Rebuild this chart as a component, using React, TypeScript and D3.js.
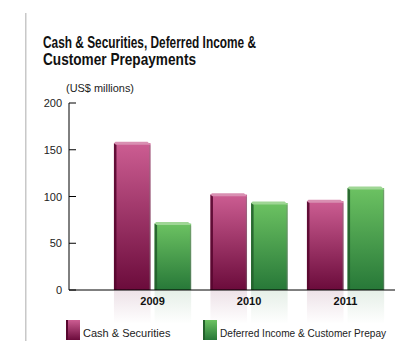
import React from "react";
import * as d3 from "d3";

const years = ["2009", "2010", "2011"];
const seriesNames = ["Cash & Securities", "Deferred Income & Customer Prepay"];
const cashSecurities = [157, 102, 95];
const deferredIncome = [71, 93, 109];
const yTicks = [0, 50, 100, 150, 200];

const W = 395;
const H = 341;

const colors = [
  { top: "#cc5d92", bottom: "#6b0b3b", side: "#58072f", edge: "#d98fb2" },
  { top: "#6cc262", bottom: "#277838", side: "#24602c", edge: "#9fd695" },
];

export default function App() {
  const y = d3.scaleLinear().domain([0, 200]).range([290, 103]);
  const x0 = d3.scaleBand<string>().domain(years).range([104.3, 393.8]).paddingInner(0.2).paddingOuter(0.1);
  const x1 = d3.scaleBand<string>().domain(["0", "1"]).range([0, x0.bandwidth()]).paddingInner(0.1);
  const series = [cashSecurities, deferredIncome];
  const font = "'Liberation Sans', Arial, sans-serif";

  return (
    <svg width={W} height={H} style={{ position: "absolute", left: 0, top: 0 }} fontFamily={font}>
      <defs>
        {colors.map((c, i) => (
          <linearGradient key={i} id={`g${i}`} x1="0" y1="0" x2="0" y2="1">
            <stop offset="0" stopColor={c.top} />
            <stop offset="1" stopColor={c.bottom} />
          </linearGradient>
        ))}
        {colors.map((c, i) => (
          <linearGradient key={"r" + i} id={`r${i}`} x1="0" y1="0" x2="0" y2="1">
            <stop offset="0" stopColor={c.bottom} stopOpacity={0.12} />
            <stop offset="1" stopColor={c.bottom} stopOpacity={0} />
          </linearGradient>
        ))}
        {colors.map((c, i) => (
          <linearGradient key={"l" + i} id={`l${i}`} x1="0" y1="0" x2="0" y2="1">
            <stop offset="0" stopColor={c.top} />
            <stop offset="1" stopColor={c.bottom} />
          </linearGradient>
        ))}
      </defs>
      <rect x={0} y={0} width={W} height={H} fill="#fff" />
      <rect x={25} y={13} width={1.5} height={H - 13} fill="#c8c8c8" />

      <text x={43} y={48} fontSize={16.5} fontWeight="bold" fill="#111" textLength={213} lengthAdjust="spacingAndGlyphs">
        Cash &amp; Securities, Deferred Income &amp;
      </text>
      <text x={43} y={64.5} fontSize={16.5} fontWeight="bold" fill="#111" textLength={153} lengthAdjust="spacingAndGlyphs">
        Customer Prepayments
      </text>
      <text x={66} y={92} fontSize={11} fill="#222" textLength={68} lengthAdjust="spacingAndGlyphs">
        (US$ millions)
      </text>

      {/* reflections */}
      {years.map((yr, gi) =>
        series.map((s, si) => {
          const bx = (x0(yr) as number) + (x1(String(si)) as number);
          return (
            <rect key={`ref${gi}-${si}`} x={bx} y={290} width={x1.bandwidth()} height={34} fill={`url(#r${si})`} />
          );
        })
      )}

      {/* bars */}
      {years.map((yr, gi) =>
        series.map((s, si) => {
          const bx = (x0(yr) as number) + (x1(String(si)) as number);
          const bw = x1.bandwidth();
          const top = y(s[gi]);
          const c = colors[si];
          return (
            <g key={`b${gi}-${si}`}>
              <rect x={bx} y={top} width={bw} height={290 - top} fill={`url(#g${si})`} />
              <rect x={bx} y={top} width={2.5} height={290 - top} fill={c.side} opacity={0.9} />
              <rect x={bx + bw - 1.2} y={top + 2} width={1.2} height={290 - top - 2} fill="#7a7a7a" opacity={0.45} />
              <polygon
                points={`${bx},${top} ${bx + 1.5},${top - 1.5} ${bx + bw - 3},${top - 1.5} ${bx + bw},${top + 1.5} ${bx + bw - 1.5},${top + 1.5} ${bx + 2},${top + 1.5}`}
                fill={c.edge}
              />
            </g>
          );
        })
      )}

      {/* y axis */}
      <line x1={69} x2={69} y1={y(200)} y2={290} stroke="#000" strokeWidth={1} />
      {yTicks.map((t) => (
        <g key={t}>
          <line x1={69} x2={76} y1={y(t)} y2={y(t)} stroke="#000" strokeWidth={1} />
          <text x={62} y={y(t) + 4} fontSize={11} textAnchor="end" fill="#222">
            {t}
          </text>
        </g>
      ))}
      <line x1={69} x2={395} y1={290} y2={290} stroke="#000" strokeWidth={1} />
      {years.map((yr) => (
        <text
          key={yr}
          x={(x0(yr) as number) + x0.bandwidth() / 2}
          y={305}
          fontSize={11}
          fontWeight="bold"
          textAnchor="middle"
          fill="#111"
        >
          {yr}
        </text>
      ))}

      {/* legend */}
      {seriesNames.map((name, i) => {
        const lx = i === 0 ? 66 : 203;
        return (
          <g key={name}>
            <rect x={lx} y={320} width={14} height={20} fill={`url(#l${i})`} />
            <rect x={lx} y={320} width={2} height={20} fill={colors[i].side} />
            <text x={lx + 17} y={336.5} fontSize={i === 0 ? 11 : 10.1} fill="#222">
              {name}
            </text>
          </g>
        );
      })}
    </svg>
  );
}
